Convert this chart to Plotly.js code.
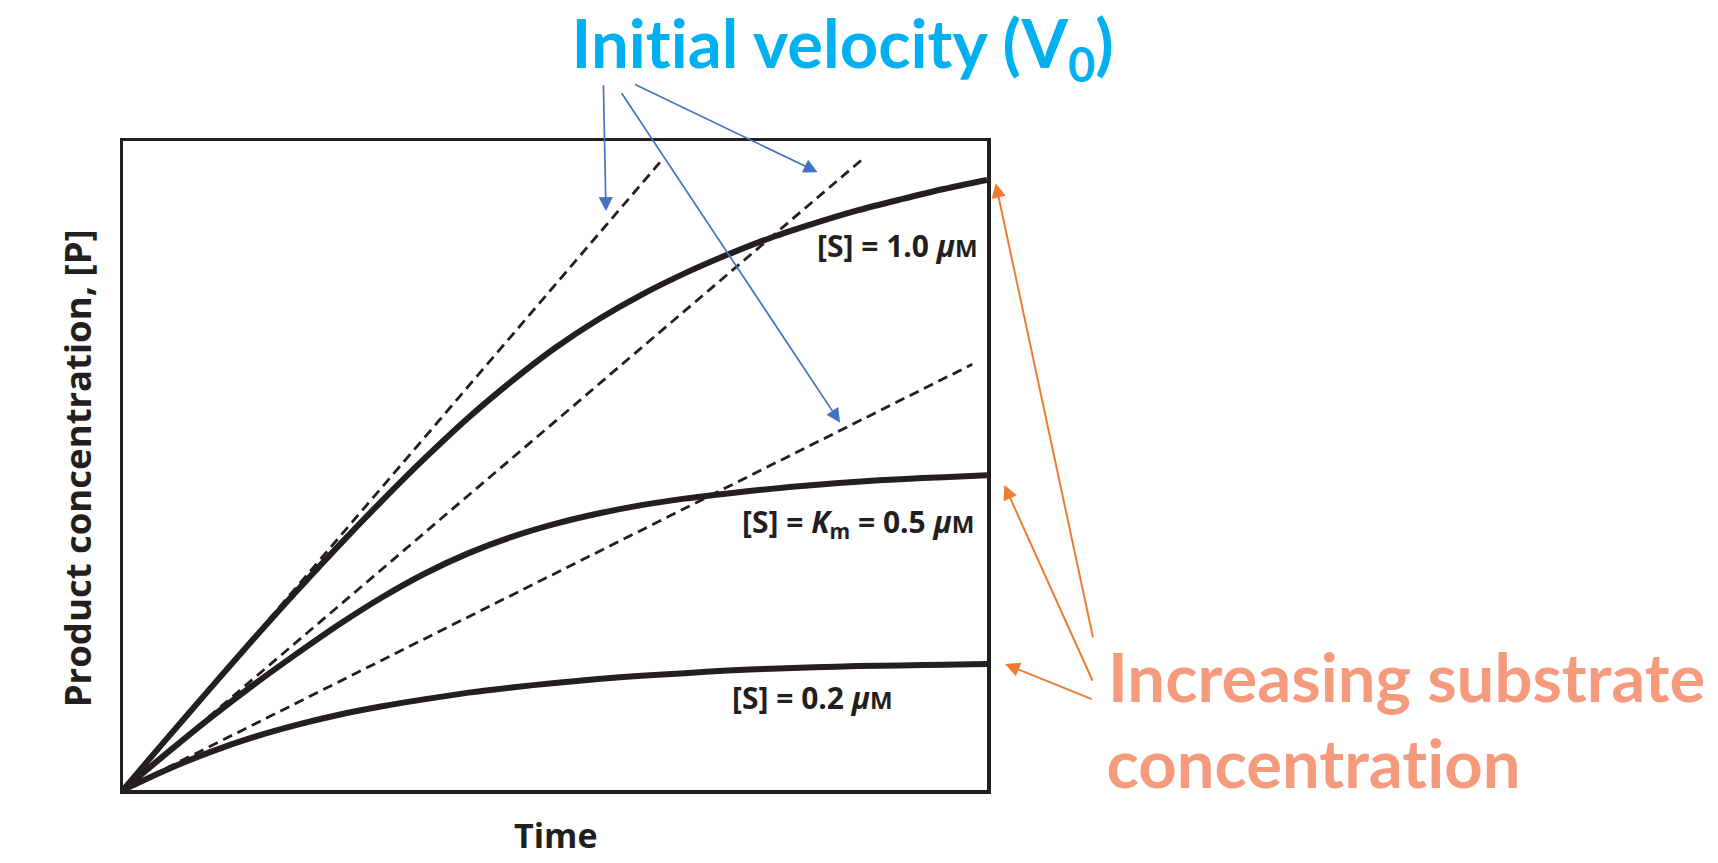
<!DOCTYPE html>
<html>
<head>
<meta charset="utf-8">
<script src="https://cdn.plot.ly/plotly-3.0.1.min.js"></script>
<style>
  html, body { margin: 0; padding: 0; background: #ffffff; }
  #chart { width: 1718px; height: 863px; }
  #chart text { font-variant-ligatures: none; font-feature-settings: "liga" 0, "clig" 0; }
</style>
</head>
<body>
<div id="chart"></div>
<script>
// Time axis (arbitrary units, 0..1 across the frame)
const timePoints = [0, 0.05, 0.1, 0.15, 0.2, 0.25, 0.3, 0.35, 0.4, 0.45, 0.5,
                    0.55, 0.6, 0.65, 0.7, 0.75, 0.8, 0.85, 0.9, 0.95, 1.0];

// Product concentration [P] progress curves for each substrate concentration
const productS10 = [0, 0.078, 0.155, 0.231, 0.305, 0.377, 0.446, 0.512, 0.574, 0.630, 0.681,
                    0.725, 0.763, 0.796, 0.825, 0.851, 0.873, 0.893, 0.910, 0.926, 0.940];
const productS05 = [0, 0.056, 0.110, 0.161, 0.209, 0.255, 0.297, 0.334, 0.365, 0.390, 0.410,
                    0.426, 0.439, 0.449, 0.457, 0.464, 0.470, 0.475, 0.479, 0.482, 0.485];
const productS02 = [0, 0.031, 0.058, 0.081, 0.100, 0.116, 0.129, 0.140, 0.150, 0.158, 0.165,
                    0.171, 0.176, 0.180, 0.184, 0.187, 0.189, 0.191, 0.192, 0.193, 0.194];

// Initial-velocity tangents (start and end points)
const tangentS10X = [0, 0.622];
const tangentS10Y = [0, 0.968];
const tangentS05X = [0, 0.856];
const tangentS05Y = [0, 0.972];
const tangentS02X = [0, 0.983];
const tangentS02Y = [0, 0.656];

// Curve labels and their anchor points (right edge, vertical middle)
const curveLabels = [
  '[S] = 1.0 <i>μ</i><span style="font-size:24px">M</span>',
  '[S] = <i>K</i><sub>m</sub> = 0.5 <i>μ</i><span style="font-size:24px">M</span>',
  '[S] = 0.2 <i>μ</i><span style="font-size:24px">M</span>'
];
const curveLabelX = [0.992, 0.988, 0.893];
const curveLabelY = [0.839, 0.412, 0.143];

// Callout text
const titleText = 'Initial velocity (V<sub>0</sub>)';
const substrateLines = ['Increasing substrate', 'concentration'];
const xTitle = 'Time';
const yTitle = 'Product concentration, [P]';

// Callout arrows: tips and tails (fractions of the plot frame)
const velocityArrowTipX  = [0.559, 0.804, 0.830];
const velocityArrowTipY  = [0.892, 0.952, 0.566];
const velocityArrowTailX = [0.556, 0.591, 0.576];
const velocityArrowTailY = [1.088, 1.088, 1.076];

const substrateArrowTipX  = [1.010, 1.020, 1.021];
const substrateArrowTipY  = [0.935, 0.470, 0.194];
const substrateArrowTailX = [1.123, 1.123, 1.123];
const substrateArrowTailY = [0.233, 0.166, 0.139];

const INK = '#231f20';
const dashStyle = '10px,6px';

const W = 1718, H = 863;
const M = { l: 123, r: 731, t: 141, b: 73 };
const plotW = W - M.l - M.r;
const plotH = H - M.t - M.b;

const solid = (y) => ({
  x: timePoints, y: y, type: 'scatter', mode: 'lines',
  line: { color: INK, width: 6, shape: 'spline', smoothing: 0.8 },
  hoverinfo: 'skip', showlegend: false
});
const dashed = (x, y) => ({
  x: x, y: y, type: 'scatter', mode: 'lines',
  line: { color: INK, width: 2.8, dash: dashStyle },
  hoverinfo: 'skip', showlegend: false
});

const traces = [
  dashed(tangentS10X, tangentS10Y),
  dashed(tangentS05X, tangentS05Y),
  dashed(tangentS02X, tangentS02Y),
  solid(productS10),
  solid(productS05),
  solid(productS02)
];

const annotations = [];

curveLabels.forEach((t, i) => {
  annotations.push({
    xref: 'x', yref: 'y', x: curveLabelX[i], y: curveLabelY[i],
    xanchor: 'right', yanchor: 'middle', showarrow: false, text: t,
    font: { family: 'Open Sans, sans-serif', size: 30, weight: 700, color: INK }
  });
});

// Arrow helper: tip given in frame fractions, tail offset in pixels
function arrow(tx, ty, sx, sy, color, width, size) {
  return {
    xref: 'paper', yref: 'paper', x: tx, y: ty,
    axref: 'pixel', ayref: 'pixel',
    ax: (sx - tx) * plotW, ay: -(sy - ty) * plotH,
    text: '', showarrow: true, arrowhead: 2, arrowsize: size, arrowwidth: width,
    arrowcolor: color, standoff: 0, startstandoff: 0
  };
}

velocityArrowTipX.forEach((x, i) => {
  annotations.push(arrow(x, velocityArrowTipY[i], velocityArrowTailX[i], velocityArrowTailY[i],
                         '#4472C4', 1.7, 1.65));
});
substrateArrowTipX.forEach((x, i) => {
  annotations.push(arrow(x, substrateArrowTipY[i], substrateArrowTailX[i], substrateArrowTailY[i],
                         '#ED7D31', 2, 1.45));
});

annotations.push({
  xref: 'paper', yref: 'paper', x: 0.833, y: 1.145, xanchor: 'center', yanchor: 'middle',
  showarrow: false, text: titleText,
  font: { family: 'Lato, sans-serif', size: 67, weight: 700, color: '#00B0F0' }
});

annotations.push({
  xref: 'paper', yref: 'paper', x: 1.138, y: 0.176, xanchor: 'left', yanchor: 'middle',
  showarrow: false, text: substrateLines[0],
  font: { family: 'Lato, sans-serif', size: 67, weight: 700, color: '#F69A7E' }
});
annotations.push({
  xref: 'paper', yref: 'paper', x: 1.135, y: 0.043, xanchor: 'left', yanchor: 'middle',
  showarrow: false, text: substrateLines[1],
  font: { family: 'Lato, sans-serif', size: 67, weight: 700, color: '#F69A7E' }
});

annotations.push({
  xref: 'paper', yref: 'paper', x: 0.501, y: -0.070, xanchor: 'center', yanchor: 'middle',
  showarrow: false, text: xTitle,
  font: { family: 'Open Sans, sans-serif', size: 34, weight: 700, color: INK }
});
annotations.push({
  xref: 'paper', yref: 'paper', x: -0.053, y: 0.496, xanchor: 'center', yanchor: 'middle',
  showarrow: false, text: yTitle, textangle: -90,
  font: { family: 'Open Sans, sans-serif', size: 36.5, weight: 700, color: INK }
});

const axisStyle = {
  range: [0, 1], showgrid: false, zeroline: false, showticklabels: false,
  ticks: '', showline: true, mirror: true, linecolor: INK, linewidth: 3.5,
  fixedrange: true
};

const layout = {
  width: W, height: H,
  margin: { l: M.l, r: M.r, t: M.t, b: M.b, pad: 0 },
  paper_bgcolor: '#ffffff', plot_bgcolor: '#ffffff',
  xaxis: Object.assign({}, axisStyle),
  yaxis: Object.assign({}, axisStyle),
  annotations: annotations,
  showlegend: false
};

Plotly.newPlot('chart', traces, layout, { displayModeBar: false, staticPlot: true });
</script>
</body>
</html>
